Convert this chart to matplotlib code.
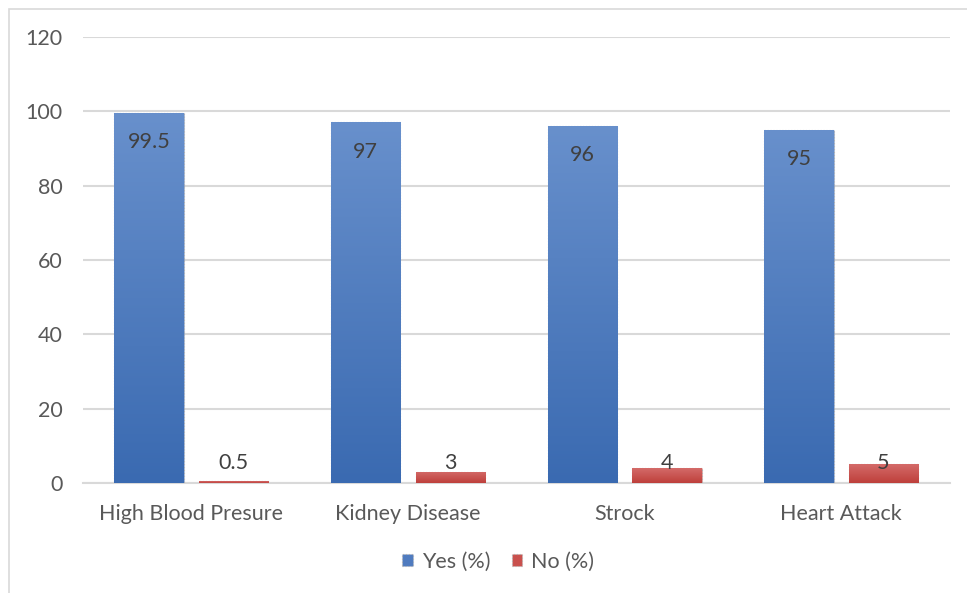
import numpy as np
import matplotlib
matplotlib.use("Agg")
import matplotlib.pyplot as plt
from matplotlib.colors import LinearSegmentedColormap
from matplotlib.patches import Rectangle

categories = ["High Blood Presure", "Kidney Disease", "Strock", "Heart Attack"]
yes_pct = [99.5, 97, 96, 95]
no_pct = [0.5, 3, 4, 5]
yes_labels = ["99.5", "97", "96", "95"]
no_labels = ["0.5", "3", "4", "5"]
y_ticks = [0, 20, 40, 60, 80, 100, 120]

plt.rcParams["font.family"] = ["Lato", "DejaVu Sans"]
text_color = "#595959"
fs = 15.5

fig = plt.figure(figsize=(9.67, 5.93), dpi=100)
ax = fig.add_axes([0.0858, 0.1855, 0.8962, 0.7521])

x = np.arange(len(categories))
width = 0.32
gap = 0.035
yes_bars = ax.bar(x - width / 2 - gap, yes_pct, width, color="#4f7bbf",
                  edgecolor="#b0b0b0", linewidth=0.8, linestyle=":", zorder=3,
                  label="Yes (%)")
no_bars = ax.bar(x + width / 2 + gap, no_pct, width, color="#c9504d",
                 edgecolor="#b0b0b0", linewidth=0.8, linestyle=":", zorder=3,
                 label="No (%)")

blue_cmap = LinearSegmentedColormap.from_list("b", ["#3a6ab1", "#6890cc"])
red_cmap = LinearSegmentedColormap.from_list("r", ["#be3f3b", "#d46b69"])
grad = np.linspace(0, 1, 256).reshape(-1, 1)
for bars, cmap in ((yes_bars, blue_cmap), (no_bars, red_cmap)):
    for b in bars:
        x0, w, h = b.get_x(), b.get_width(), b.get_height()
        im = ax.imshow(grad, cmap=cmap, origin="lower", aspect="auto",
                       extent=(x0, x0 + w, 0, h), zorder=3.5, interpolation="bicubic")
        im.set_clip_path(b)

for b, lab in zip(yes_bars, yes_labels):
    ax.annotate(lab, (b.get_x() + b.get_width() / 2, b.get_height()),
                xytext=(0, -21), textcoords="offset points", ha="center",
                va="center", fontsize=fs, color="#404040", zorder=5)
no_label_y = max(no_pct) + 0.5
for b, lab in zip(no_bars, no_labels):
    ax.text(b.get_x() + b.get_width() / 2, no_label_y, lab, ha="center",
            va="center", fontsize=fs, color="#404040", zorder=5)

ax.set_xlim(-0.5, len(categories) - 0.5)
ax.set_ylim(0, 120)
ax.set_yticks(y_ticks)
ax.set_xticks(x)
ax.set_xticklabels(categories)
ax.tick_params(axis="both", length=0, labelsize=fs, colors=text_color)
ax.tick_params(axis="y", pad=14.5)
ax.tick_params(axis="x", pad=15)
ax.yaxis.grid(True, color="#d9d9d9", linewidth=1.5, zorder=0)
ax.set_axisbelow(True)
for side in ("top", "right", "left"):
    ax.spines[side].set_visible(False)
ax.spines["bottom"].set_color("#d9d9d9")
ax.spines["bottom"].set_linewidth(1.5)

leg = ax.legend(loc="upper center", bbox_to_anchor=(0.479, -0.11), ncol=2,
                frameon=False, fontsize=fs, handlelength=0.5, handleheight=0.5,
                handletextpad=0.4, columnspacing=1.0, labelcolor=text_color)

fig.patches.append(Rectangle((9 / 967, -0.1), 1.2, 1.1 - 9 / 593,
                             transform=fig.transFigure, fill=False,
                             edgecolor="#d9d9d9", linewidth=1.2))

fig.savefig("out.png", dpi=100)
